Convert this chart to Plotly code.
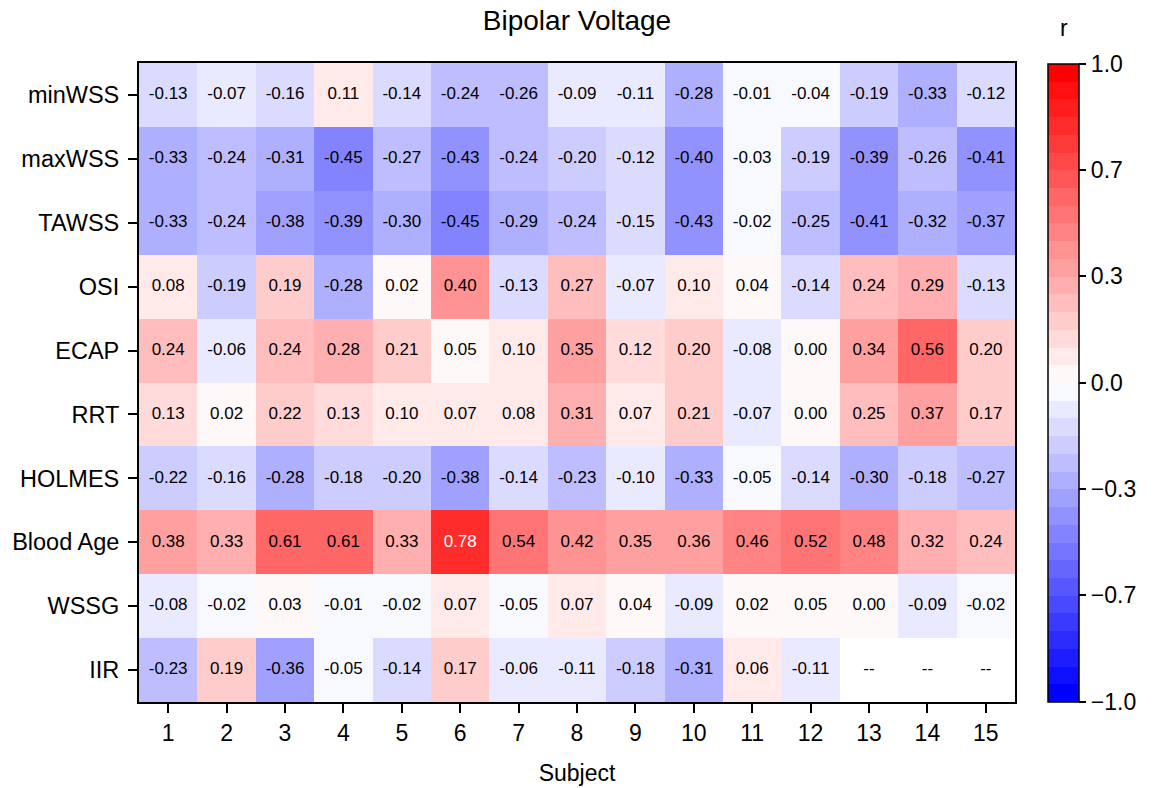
import numpy as np
import plotly.graph_objects as go

subjects = [str(i) for i in range(1, 16)]
metrics = ["minWSS", "maxWSS", "TAWSS", "OSI", "ECAP", "RRT", "HOLMES", "Blood Age", "WSSG", "IIR"]

minWSS = [-0.13, -0.07, -0.16, 0.11, -0.14, -0.24, -0.26, -0.09, -0.11, -0.28, -0.01, -0.04, -0.19, -0.33, -0.12]
maxWSS = [-0.33, -0.24, -0.31, -0.45, -0.27, -0.43, -0.24, -0.20, -0.12, -0.40, -0.03, -0.19, -0.39, -0.26, -0.41]
TAWSS = [-0.33, -0.24, -0.38, -0.39, -0.30, -0.45, -0.29, -0.24, -0.15, -0.43, -0.02, -0.25, -0.41, -0.32, -0.37]
OSI = [0.08, -0.19, 0.19, -0.28, 0.02, 0.40, -0.13, 0.27, -0.07, 0.10, 0.04, -0.14, 0.24, 0.29, -0.13]
ECAP = [0.24, -0.06, 0.24, 0.28, 0.21, 0.05, 0.10, 0.35, 0.12, 0.20, -0.08, 0.00, 0.34, 0.56, 0.20]
RRT = [0.13, 0.02, 0.22, 0.13, 0.10, 0.07, 0.08, 0.31, 0.07, 0.21, -0.07, 0.00, 0.25, 0.37, 0.17]
HOLMES = [-0.22, -0.16, -0.28, -0.18, -0.20, -0.38, -0.14, -0.23, -0.10, -0.33, -0.05, -0.14, -0.30, -0.18, -0.27]
BloodAge = [0.38, 0.33, 0.61, 0.61, 0.33, 0.78, 0.54, 0.42, 0.35, 0.36, 0.46, 0.52, 0.48, 0.32, 0.24]
WSSG = [-0.08, -0.02, 0.03, -0.01, -0.02, 0.07, -0.05, 0.07, 0.04, -0.09, 0.02, 0.05, 0.00, -0.09, -0.02]
IIR = [-0.23, 0.19, -0.36, -0.05, -0.14, 0.17, -0.06, -0.11, -0.18, -0.31, 0.06, -0.11, None, None, None]

cbar_tickvals = [-1.0, -2/3, -1/3, 0.0, 1/3, 2/3, 1.0]
cbar_ticktext = ["\u22121.0", "\u22120.7", "\u22120.3", "0.0", "0.3", "0.7", "1.0"]

rows = [minWSS, maxWSS, TAWSS, OSI, ECAP, RRT, HOLMES, BloodAge, WSSG, IIR]
Z = np.array([[np.nan if v is None else v for v in r] for r in rows], dtype=float)

# discrete bwr colormap with 36 levels
N = 36
def bwr(t):
    if t <= 0.5:
        c = 2 * t
        return (c, c, 1.0)
    c = 2 * (1 - t)
    return (1.0, c, c)

colorscale = []
for i in range(N):
    r, g, b = bwr(i / (N - 1))
    col = f"rgb({round(r*255)},{round(g*255)},{round(b*255)})"
    colorscale.append([i / N, col])
    colorscale.append([(i + 1) / N, col])

FONT = "Arial, Liberation Sans, sans-serif"

PL, PR, PT, PB = 139, 1015, 63, 702
W, H = 1154, 788
pw, ph = PR - PL, PB - PT

fig = go.Figure()
fig.add_trace(go.Heatmap(
    z=Z, x=subjects, y=metrics, zmin=-1, zmax=1,
    colorscale=colorscale, hoverongaps=False,
    colorbar=dict(
        x=(1048 - PL) / pw, xanchor="left", xref="paper", xpad=0,
        y=0.5, yanchor="middle", ypad=0,
        thickness=31, thicknessmode="pixels",
        len=638, lenmode="pixels",
        outlinecolor="black", outlinewidth=1.5,
        tickmode="array", tickvals=cbar_tickvals, ticktext=cbar_ticktext,
        ticks="outside", ticklen=7, tickwidth=1.5, tickcolor="black",
        tickfont=dict(size=23, color="black", family=FONT),
    ),
))

# cell annotations via a text scatter
xs, ys, txt, cols = [], [], [], []
for ri, m in enumerate(metrics):
    for ci, s in enumerate(subjects):
        v = Z[ri, ci]
        xs.append(s)
        ys.append(m)
        if np.isnan(v):
            txt.append("--")
            cols.append("black")
        else:
            txt.append(f"{v:.2f}")
            cols.append("white" if abs(v) > 0.7 else "black")

fig.add_trace(go.Scatter(
    x=xs, y=ys, mode="text", text=txt,
    textfont=dict(size=17, color=cols, family=FONT),
    hoverinfo="skip", showlegend=False, cliponaxis=False,
))

fig.update_layout(
    width=W, height=H,
    margin=dict(l=PL, r=W - PR, t=PT, b=H - PB, autoexpand=False),
    paper_bgcolor="white", plot_bgcolor="white",
    font=dict(family=FONT, color="black"),
    title=dict(text="Bipolar Voltage", x=0.5, xref="paper", xanchor="center",
               y=1 - 20 / H, yanchor="middle", font=dict(size=28, color="black")),
    xaxis=dict(
        type="category", range=[-0.5, len(subjects) - 0.5], automargin=False,
        showline=True, mirror=True, linecolor="black", linewidth=2,
        ticks="outside", ticklen=9, tickwidth=1.8, tickcolor="black",
        tickfont=dict(size=23), showgrid=False, zeroline=False,
        title=dict(text="Subject", font=dict(size=23), standoff=20),
    ),
    yaxis=dict(
        type="category", range=[len(metrics) - 0.5, -0.5], automargin=False,
        showline=True, mirror=True,
        linecolor="black", linewidth=2,
        ticks="outside", ticklen=9, tickwidth=1.8, tickcolor="black",
        tickfont=dict(size=23.5), showgrid=False, zeroline=False,
        ticklabelstandoff=4,
    ),
    annotations=[dict(text="r", x=(1064 - PL) / pw, xref="paper",
                      y=(PB - 28) / ph, yref="paper",
                      xanchor="center", yanchor="middle",
                      showarrow=False, font=dict(size=23, color="black"))],
)

fig.write_html("out.html")
